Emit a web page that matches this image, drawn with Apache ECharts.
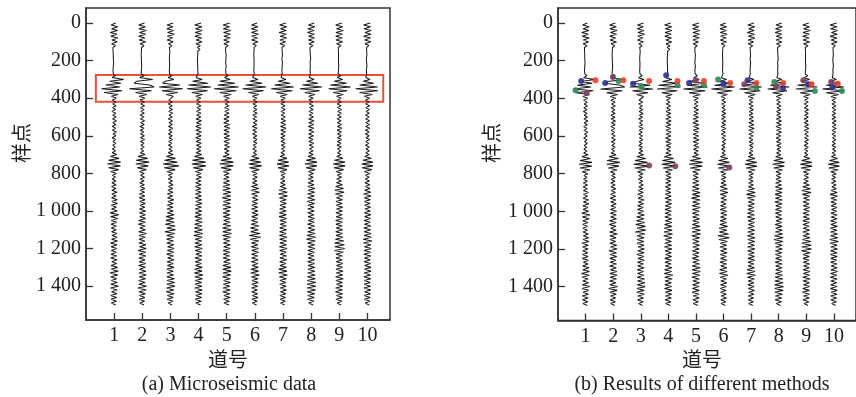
<!DOCTYPE html>
<html><head><meta charset="utf-8">
<script src="https://cdn.jsdelivr.net/npm/echarts@6/dist/echarts.min.js"></script>
<style>html,body{margin:0;padding:0;background:#fff}#c{width:856px;height:397px}</style>
</head><body><div id="c"></div>
<script>
// sample positions: every 10 samples, 0..1500
const SAMPLE_STEP = 10;
const traceNumbers = [1,2,3,4,5,6,7,8,9,10];
const yTickValues = [0,200,400,600,800,1000,1200,1400];
// amplitudes in hundredths of trace spacing, one value per 10 samples
const trace1 = [6,-11,13,-9,12,-14,10,-12,13,-8, 11,-9,5,-4,3,-4,2,-3,4,-3, 3,-2,4,-3,3,-4,2,-3,5,-7, 34,-16,24,-30,20,-45,28,-36,14,-10, 8,-7,6,-5,7,-6,5,-8,6,-5, 7,-6,8,-5,6,-7,5,-6,8,-4, 6,-7,5,-4,6,-5,4,-6,5,-7, 9,-13,17,-20,23,-24,22,-20,16,-12, 8,-6,5,-7,6,-8,7,-9,6,-8, 10,-8,7,-9,11,-8,12,-10,8,-9, 11,-14,16,-12,13,-10,9,-11,8,-10, 7,-9,10,-8,11,-9,12,-13,10,-11, 9,-10,8,-11,9,-12,10,-8,9,-11, 12,-10,14,-15,13,-12,9,-10,11,-12, 15,-13,11,-9,10,-12,9,-11,8,-10, 6];
const trace2 = [8,-13,11,-12,14,-10,12,-13,9,-11, 12,-8,6,-3,4,-3,3,-4,2,-3, 4,-3,3,-2,4,-3,3,-4,6,-9, 37,-20,-29,26,42,-46,33,-24,16,-11, 9,-8,7,-6,8,-7,6,-5,7,-8, 6,-7,8,-6,7,-8,6,-7,5,-6, 7,-6,8,-7,6,-5,7,-6,5,-7, 10,-15,19,-22,24,-23,21,-18,14,-10, 7,-6,8,-7,6,-9,7,-8,9,-7, 8,-10,9,-11,10,-9,11,-8,9,-10, 12,-10,11,-9,12,-13,11,-14,10,-9, 11,-13,15,-12,10,-11,9,-12,13,-10, 14,-15,12,-11,13,-12,10,-11,12,-13, 11,-10,13,-12,14,-11,12,-13,10,-12, 15,-16,14,-12,11,-10,9,-11,8,-9, 6];
const trace3 = [10,-12,9,-13,11,-10,14,-11,8,-12, 10,-7,5,-4,3,-2,4,-3,3,-4, 2,-3,4,-3,2,-4,3,-3,5,-8, 12,-18,-28,34,-40,44,-30,26,-15,10, 8,-6,7,-8,6,-5,7,-6,8,-5, 6,-8,7,-5,6,-7,8,-6,5,-7, 6,-5,7,-6,5,-7,6,-5,7,-8, 10,-14,18,-21,24,-26,30,-22,17,-12, 8,-7,6,-8,7,-6,9,-7,8,-9, 9,-11,8,-10,12,-9,10,-11,9,-12, 10,-11,13,-15,12,-16,14,-18,17,-13, 18,-20,15,-13,12,-14,11,-13,12,-10, 13,-11,12,-14,11,-10,13,-12,10,-11, 12,-13,10,-12,11,-13,14,-12,15,-13, 16,-14,12,-15,13,-11,10,-12,9,-8, 6];
const trace4 = [9,-14,12,-11,13,-12,10,-13,11,-9, 12,-9,6,-4,5,-3,4,-3,3,-4, 3,-4,2,-3,4,-3,3,-2,5,-9, 13,-21,33,-36,44,-41,32,-24,14,-10, 8,-7,6,-7,8,-6,7,-8,9,-7, 8,-9,10,-8,9,-10,8,-9,10,-8, 9,-10,8,-9,10,-8,9,-7,8,-9, 11,-15,19,-22,25,-24,26,-19,15,-11, 9,-8,10,-9,8,-10,9,-11,8,-10, 9,-11,10,-12,11,-10,12,-11,10,-12, 11,-12,10,-13,12,-11,13,-14,12,-15, 14,-16,15,-17,13,-12,11,-13,12,-14, 13,-12,11,-10,12,-13,11,-12,10,-11, 13,-14,12,-15,16,-13,14,-12,11,-13, 12,-14,13,-11,12,-10,11,-12,9,-10, 7];
const trace5 = [11,-13,10,-12,14,-11,13,-10,12,-11, 9,-10,5,-4,3,-4,3,-2,4,-3, 3,-4,3,-2,3,-4,2,-3,5,-8, 12,-25,29,-32,42,-45,34,-25,16,-11, 9,-7,8,-6,7,-8,9,-7,8,-9, 9,-10,8,-11,10,-9,11,-10,9,-10, 10,-9,11,-10,9,-8,10,-9,8,-7, 9,-13,17,-21,24,-25,23,-20,16,-12, 9,-10,8,-11,10,-12,11,-13,12,-14, 15,-13,14,-16,15,-12,13,-14,15,-13, 12,-13,11,-12,13,-11,12,-13,14,-15, 16,-14,17,-15,13,-12,11,-12,13,-11, 12,-13,11,-12,10,-13,12,-11,13,-14, 15,-14,16,-13,14,-15,12,-11,13,-12, 11,-13,12,-14,11,-10,12,-11,9,-10, 8];
const trace6 = [8,-12,11,-13,10,-12,13,-11,9,-12, 11,-8,5,-3,4,-3,2,-4,3,-3, 4,-3,2,-3,3,-4,3,-2,4,-8, 11,-18,26,-33,40,-44,31,-23,14,-9, 7,-6,8,-7,6,-5,7,-6,8,-7, 6,-7,8,-6,7,-9,8,-7,6,-8, 7,-6,8,-5,7,-6,5,-7,6,-5, 7,-11,15,-18,21,-22,24,-19,15,-11, 8,-7,9,-8,7,-9,10,-12,14,-13, 16,-12,10,-9,11,-10,9,-11,10,-12, 11,-10,12,-11,10,-12,11,-13,14,-16, 12,-15,18,-20,21,-17,14,-12,11,-13, 12,-11,13,-12,10,-11,12,-13,11,-10, 12,-14,13,-15,16,-12,11,-10,12,-11, 10,-12,9,-11,10,-9,11,-10,8,-9, 6];
const trace7 = [10,-12,13,-9,11,-14,12,-10,13,-11, 9,-11,6,-4,3,-3,4,-2,3,-4, 3,-2,4,-3,3,-4,2,-3,4,-7, 10,-17,25,-30,38,-42,33,-24,15,-10, 8,-7,6,-8,7,-6,8,-7,6,-7, 8,-7,9,-8,10,-9,11,-8,9,-8, 7,-8,6,-7,8,-6,7,-5,6,-7, 6,-10,14,-18,20,-22,21,-18,14,-10, 8,-7,6,-8,7,-9,8,-10,12,-14, 15,-17,16,-13,11,-10,12,-11,10,-12, 11,-13,12,-14,13,-11,12,-10,11,-12, 13,-12,11,-13,14,-12,13,-11,12,-13, 14,-12,11,-10,12,-11,13,-12,10,-11, 12,-15,14,-16,15,-13,12,-11,10,-12, 11,-10,12,-9,10,-11,9,-10,8,-9, 6];
const trace8 = [11,-10,13,-12,10,-13,11,-9,12,-10, 11,-8,6,-4,3,-4,2,-3,4,-2, 3,-4,3,-3,2,-4,3,-3,4,-7, 11,-17,24,-31,38,-40,30,-22,13,-9, 7,-8,6,-7,8,-6,7,-8,6,-7, 8,-9,10,-8,9,-10,9,-8,10,-9, 8,-9,7,-8,9,-7,8,-6,7,-8, 7,-11,15,-18,21,-22,20,-18,14,-10, 8,-9,7,-10,9,-11,10,-12,13,-11, 12,-13,11,-12,13,-14,12,-11,10,-12, 11,-12,10,-11,12,-10,11,-13,12,-11, 13,-12,14,-15,16,-17,15,-13,12,-11, 13,-12,11,-12,10,-11,12,-13,12,-11, 12,-11,13,-12,14,-13,15,-14,16,-15, 17,-15,16,-14,13,-12,11,-13,10,-9, 7];
const trace9 = [9,-13,12,-10,14,-12,11,-13,10,-12, 12,-10,6,-4,3,-3,4,-3,2,-3, 4,-3,3,-2,4,-3,3,-4,5,-8, 12,-18,26,-32,40,-38,28,-22,14,-10, 7,-6,7,-8,6,-7,8,-6,7,-6, 7,-8,6,-7,8,-7,9,-8,7,-6, 7,-6,8,-7,6,-8,7,-6,5,-6, 6,-9,13,-17,20,-22,21,-19,15,-11, 8,-7,8,-9,7,-10,11,-13,15,-16, 17,-14,12,-10,11,-12,10,-11,12,-10, 11,-12,10,-11,12,-13,11,-12,10,-11, 12,-13,11,-12,13,-14,16,-17,18,-16, 19,-17,14,-12,11,-12,10,-11,12,-10, 11,-12,13,-11,12,-13,14,-12,11,-10, 12,-13,11,-14,12,-10,11,-12,9,-8, 6];
const trace10 = [10,-14,11,-12,13,-9,12,-14,11,-10, 12,-9,5,-3,4,-3,3,-2,3,-4, 3,-3,4,-2,3,-4,3,-3,4,-6, 9,-15,22,-28,36,-42,37,-28,17,-11, 8,-7,6,-7,8,-6,7,-5,6,-7, 6,-7,8,-6,7,-6,8,-7,6,-7, 6,-5,7,-6,5,-7,6,-5,7,-6, 6,-9,13,-16,19,-21,20,-19,15,-11, 8,-7,6,-8,7,-9,8,-7,9,-10, 12,-14,13,-11,10,-11,9,-10,11,-9, 10,-11,12,-10,11,-12,10,-11,12,-13, 11,-12,13,-12,14,-15,16,-14,12,-11, 13,-12,11,-13,12,-11,10,-12,11,-10, 12,-11,13,-12,11,-13,12,-11,10,-12, 11,-13,12,-10,11,-12,10,-11,9,-8, 6];
const traces = [trace1,trace2,trace3,trace4,trace5,trace6,trace7,trace8,trace9,trace10];
// picks by different methods (panel b): [trace position, sample]
const picksRed = [[1.36,304],[2.37,304],[3.30,308],[4.33,308],[5.29,308],[6.24,318],[7.19,318],[8.16,318],[9.19,325],[10.14,322]];
const picksBlue = [[0.84,308],[1.71,318],[2.72,322],[3.92,277],[4.75,318],[6.0,322],[6.87,304],[8.16,343],[9.07,325],[9.95,340]];
const picksGreen = [[0.64,357],[2.19,308],[3.02,336],[4.33,331],[5.29,331],[5.80,300],[7.19,343],[7.84,313],[9.31,361],[10.29,361]];
const picksPurple = [[1.04,371],[1.99,286],[4.99,304],[6.75,325],[7.90,336],[8.89,304],[9.90,313],[3.30,756],[4.25,761],[6.21,767]];
// highlighted window in panel a
const boxWindow = [[0.35,277],[10.56,419]];

const FONT = '"Liberation Serif", "Times New Roman", serif';
const CJK = '"Noto Sans CJK SC", sans-serif';
const AX = '#333';

function xAxisFor(gi){
  return {type:'value', gridIndex:gi, min:0, max:10.8,
    axisLine:{show:true, onZero:false, lineStyle:{color:AX, width:1.5}},
    axisTick:{show:true, inside:true, length:7, customValues:traceNumbers, lineStyle:{color:AX, width:1.3}},
    axisLabel:{customValues:traceNumbers, fontFamily:FONT, fontSize:20, color:'#222', margin:6},
    splitLine:{show:false}};
}
function yAxisFor(gi){
  return {type:'value', gridIndex:gi, inverse:true, min:-80, max:1580,
    axisLine:{show:true, onZero:false, lineStyle:{color:AX, width:1.5}},
    axisTick:{show:true, inside:true, length:7, customValues:yTickValues, lineStyle:{color:AX, width:1.3}},
    axisLabel:{customValues:yTickValues, fontFamily:FONT, fontSize:20, color:'#222', margin:5,
      formatter: v => v >= 1000 ? Math.floor(v/1000) + ' ' + String(v%1000).padStart(3,'0') : String(v)},
    splitLine:{show:false}};
}
const series = [];
[0,1].forEach(gi => {
  traces.forEach((amps, t) => {
    const k = traceNumbers[t];
    series.push({type:'line', xAxisIndex:gi, yAxisIndex:gi, showSymbol:false, silent:true,
      lineStyle:{color:'#1c1c1c', width:1.05}, z:2,
      data: amps.map((v,i) => [k + v/100, i*SAMPLE_STEP])});
  });
});
series[0].markArea = {silent:true, itemStyle:{color:'rgba(0,0,0,0)', borderColor:'#e8503a', borderWidth:2},
  data:[[{coord:boxWindow[0]},{coord:boxWindow[1]}]]};
const pickSets = [[picksBlue,'#2c3192'],[picksPurple,'#7d3f63'],[picksGreen,'#2f8a57'],[picksRed,'#e8412c']];
pickSets.forEach(([d,c]) => series.push({type:'scatter', xAxisIndex:1, yAxisIndex:1, symbolSize:6, z:5,
  itemStyle:{color:c, opacity:0.9}, data:d}));

const chart = echarts.init(document.getElementById('c'), null, {renderer:'canvas'});
chart.setOption({
  animation:false,
  backgroundColor:'#fff',
  grid:[
    {left:86, top:8, width:304, height:312, show:true, borderColor:AX, borderWidth:1.5},
    {left:558, top:8, width:302, height:312.5, show:true, borderColor:AX, borderWidth:1.5}
  ],
  xAxis:[xAxisFor(0), xAxisFor(1)],
  yAxis:[yAxisFor(0), yAxisFor(1)],
  series,
  graphic:[
    {type:'text', x:21, y:143, rotation:Math.PI/2, style:{text:'样点', font:'20px '+CJK, fill:'#222', align:'center', verticalAlign:'middle'}},
    {type:'text', x:491, y:143, rotation:Math.PI/2, style:{text:'样点', font:'20px '+CJK, fill:'#222', align:'center', verticalAlign:'middle'}},
    {type:'text', x:228, y:359, style:{text:'道号', font:'20px '+CJK, fill:'#222', align:'center', verticalAlign:'middle'}},
    {type:'text', x:702, y:359, style:{text:'道号', font:'20px '+CJK, fill:'#222', align:'center', verticalAlign:'middle'}},
    {type:'text', x:229, y:385, style:{text:'(a) Microseismic data', font:'20px '+FONT, fill:'#222', align:'center', verticalAlign:'middle'}},
    {type:'text', x:702, y:385, style:{text:'(b) Results of different methods', font:'20px '+FONT, fill:'#222', align:'center', verticalAlign:'middle'}}
  ]
});
</script></body></html>
